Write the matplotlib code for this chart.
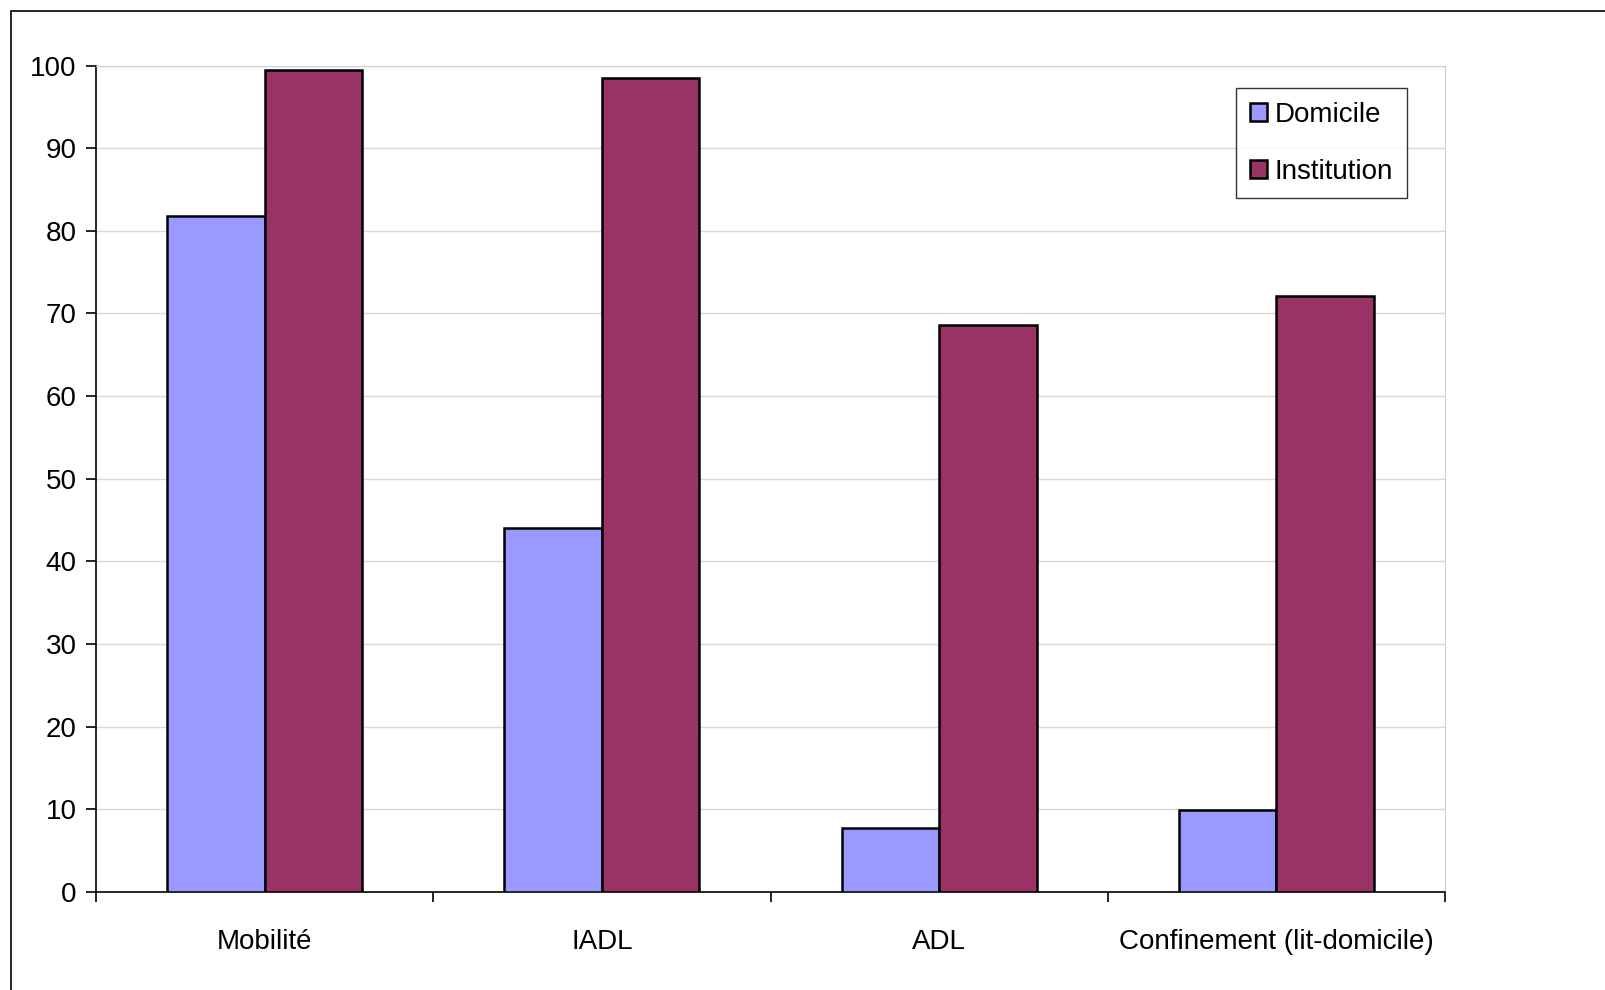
import matplotlib.pyplot as plt
from matplotlib.patches import Rectangle
import numpy as np

# Données
categories = ['Mobilité', 'IADL', 'ADL', 'Confinement (lit-domicile)']
domicile = [81.8, 44.0, 7.8, 9.9]
institution = [99.4, 98.5, 68.6, 72.1]

plt.rcParams['font.family'] = ['Liberation Sans', 'DejaVu Sans']

fig = plt.figure(figsize=(16.06, 9.9), dpi=100)
ax = fig.add_axes([0.0598, 0.099, 0.8400, 0.8348])

x = np.arange(len(categories))
w = 0.289
ax.bar(x - w / 2, domicile, w, color='#9999ff', edgecolor='black', linewidth=1.8, label='Domicile', zorder=3)
ax.bar(x + w / 2, institution, w, color='#993366', edgecolor='black', linewidth=1.8, label='Institution', zorder=3)

ax.set_xlim(-0.5, len(categories) - 0.5)
ax.set_ylim(0, 100)
ax.set_yticks(range(0, 101, 10))
ax.set_xticks(x)
ax.set_xticklabels(categories)
ax.set_xticks(np.arange(-0.5, len(categories), 1), minor=True)
ax.tick_params(axis='x', which='major', length=0, pad=27, labelsize=20)
ax.tick_params(axis='x', which='minor', length=7, width=1.2, direction='out')
ax.tick_params(axis='y', length=7, width=1.2, pad=7, labelsize=20)

ax.grid(axis='y', color='#d9d9d9', linewidth=1, zorder=0)
ax.spines['left'].set_linewidth(1.2)
ax.spines['bottom'].set_linewidth(1.2)
ax.spines['right'].set_color('#d0d0d0')
ax.spines['top'].set_color('#d0d0d0')

leg = ax.legend(loc='upper left', bbox_to_anchor=(0.7696, 0.911), bbox_transform=fig.transFigure,
                fontsize=20, frameon=True, fancybox=False, edgecolor='black',
                handlelength=0.6, handleheight=0.6, handletextpad=0.3,
                borderpad=0.5, labelspacing=1.1, borderaxespad=0)
leg.get_frame().set_linewidth(1)

# cadre extérieur
fig.patches.append(Rectangle((11 / 1606, -0.2), 1.5, 1.2 - 11 / 990, transform=fig.transFigure,
                             fill=False, edgecolor='black', linewidth=1.2))

fig.savefig('out.png', dpi=100)
